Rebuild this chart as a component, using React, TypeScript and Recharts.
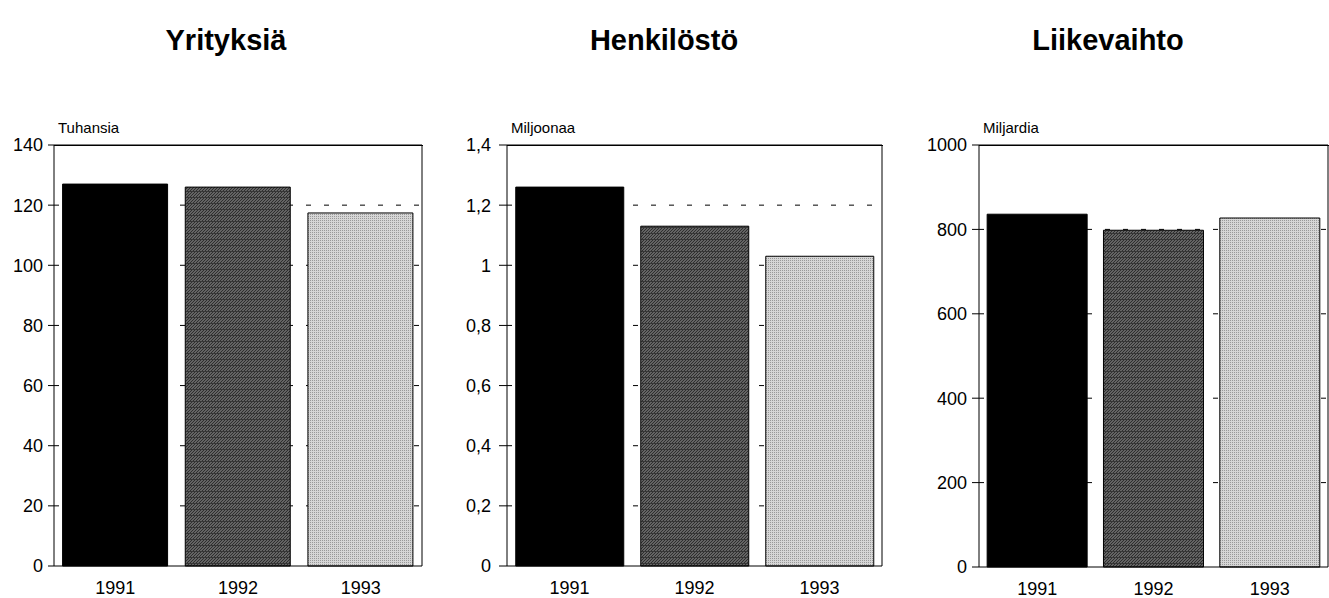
import React from 'react'
import { BarChart, Bar, Cell, XAxis, YAxis, CartesianGrid, ReferenceLine } from 'recharts'

const years = ['1991', '1992', '1993']
const yritykset = [127, 126, 117.4] // tuhansia
const henkilosto = [1.26, 1.13, 1.03] // miljoonaa
const liikevaihto = [836, 798, 827] // miljardia

const ticksYritykset = [0, 20, 40, 60, 80, 100, 120, 140]
const ticksHenkilosto = [0, 0.2, 0.4, 0.6, 0.8, 1, 1.2, 1.4]
const ticksLiikevaihto = [0, 200, 400, 600, 800, 1000]

const fills = ['#000000', 'url(#hatchDark)', 'url(#stippleLight)']
const font = '"Liberation Sans", Arial, Helvetica, sans-serif'

const fmt = (v: number) => String(v).replace('.', ',')

interface PanelProps {
  title: string
  unit: string
  values: number[]
  ticks: number[]
  left: number
  width: number
  axisWidth: number
  rightMargin: number
  xAxisHeight: number
  titleCenter: number
  tickSize: number
  tickMargin: number
}

const PLOT_TOP = 145

const Panel: React.FC<PanelProps> = ({
  title, unit, values, ticks, left, width, axisWidth, rightMargin, xAxisHeight, titleCenter,
  tickSize, tickMargin
}) => {
  const data = years.map((year, i) => ({ year, value: values[i] }))
  const max = ticks[ticks.length - 1]
  return (
    <>
      <div style={{
        position: 'absolute', left: titleCenter - 150, width: 300, top: 26, textAlign: 'center',
        fontFamily: font, fontWeight: 'bold', fontSize: 29, lineHeight: '29px'
      }}>{title}</div>
      <div style={{
        position: 'absolute', left: left + axisWidth + 4, top: 120,
        fontFamily: font, fontSize: 15, lineHeight: '15px'
      }}>{unit}</div>
      <div style={{ position: 'absolute', left, top: 0 }}>
        <BarChart width={width} height={598} data={data} barCategoryGap="7%"
          margin={{ top: PLOT_TOP, right: rightMargin, bottom: 0, left: 0 }}>
          {/* dashed lines only on the inner tick levels */}
          <CartesianGrid yAxisId="l" vertical={false} stroke="#000" strokeDasharray="5 13"
            horizontalValues={ticks.slice(1, -1)} />
          <XAxis dataKey="year" height={xAxisHeight} tickLine={false} tickSize={0} tickMargin={15}
            axisLine={{ stroke: '#000' }}
            tick={{ fill: '#000', fontSize: 18, fontFamily: font }} />
          <YAxis yAxisId="l" width={axisWidth} domain={[0, max]} ticks={ticks} interval={0}
            tickFormatter={fmt} tickSize={tickSize} tickMargin={tickMargin}
            axisLine={{ stroke: '#000' }} tickLine={{ stroke: '#000' }}
            tick={{ fill: '#000', fontSize: 18, fontFamily: font }} />
          <YAxis yAxisId="r" orientation="right" width={1} domain={[0, max]} ticks={ticks}
            tick={false} tickLine={false} axisLine={{ stroke: '#000' }} />
          <ReferenceLine yAxisId="l" y={max} stroke="#000" strokeWidth={1.2} ifOverflow="visible" />
          <Bar yAxisId="l" dataKey="value" stroke="#000" strokeWidth={1}
            isAnimationActive={false}>
            {data.map((d, i) => <Cell key={d.year} fill={fills[i]} />)}
          </Bar>
        </BarChart>
      </div>
      {/* top edge of the frame */}
      <div style={{
        position: 'absolute', zIndex: 5, left: left + axisWidth, top: PLOT_TOP - 0.5,
        width: width - axisWidth - rightMargin, height: 1, background: '#000'
      }} />
    </>
  )
}

export default function App() {
  return (
    <div style={{ position: 'absolute', left: 0, top: 0, width: 1329, height: 598, background: '#fff', overflow: 'hidden' }}>
      <svg width={0} height={0} style={{ position: 'absolute' }}>
        <defs>
          <pattern id="hatchDark" width={3} height={6} patternUnits="userSpaceOnUse">
            <rect width={3} height={6} fill="#646464" />
            <path d="M0,3 L3,0 M0,6 L3,3" stroke="#2e2e2e" strokeWidth={1} />
            <rect y={5} width={3} height={1} fill="#363636" />
          </pattern>
          <pattern id="stippleLight" width={2} height={2} patternUnits="userSpaceOnUse">
            <rect width={2} height={2} fill="#d6d6d6" />
            <rect x={0} y={0} width={1} height={1} fill="#999" />
          </pattern>
        </defs>
      </svg>
      <Panel title="Yrityksiä" unit="Tuhansia" values={yritykset} ticks={ticksYritykset}
        left={0} width={440} axisWidth={54} rightMargin={17} xAxisHeight={32} titleCenter={226}
        tickSize={6} tickMargin={5} />
      <Panel title="Henkilöstö" unit="Miljoonaa" values={henkilosto} ticks={ticksHenkilosto}
        left={440} width={450} axisWidth={67} rightMargin={7} xAxisHeight={32} titleCenter={664}
        tickSize={8} tickMargin={8} />
      <Panel title="Liikevaihto" unit="Miljardia" values={liikevaihto} ticks={ticksLiikevaihto}
        left={890} width={439} axisWidth={89} rightMargin={0} xAxisHeight={31} titleCenter={1108}
        tickSize={7} tickMargin={5} />
    </div>
  )
}
